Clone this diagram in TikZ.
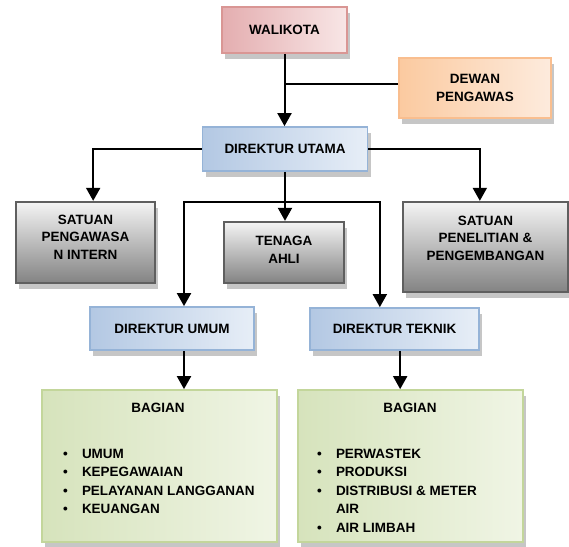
\documentclass[tikz,border=0pt]{standalone}
\usepackage{fontspec}
\setmainfont{Liberation Sans}
\usepackage{xcolor}
\usetikzlibrary{arrows.meta,shadows}

\definecolor{pinkline}{HTML}{D99694}
\definecolor{pinkdark}{HTML}{E4AEB0}
\definecolor{pinklight}{HTML}{F8E6E6}
\definecolor{orangeline}{HTML}{F9BE8F}
\definecolor{orangedark}{HTML}{FBCAA0}
\definecolor{orangelight}{HTML}{FDEBDD}
\definecolor{blueline}{HTML}{95B3D7}
\definecolor{bluedark}{HTML}{B3C8E3}
\definecolor{bluelight}{HTML}{E7EEF7}
\definecolor{grayline}{HTML}{5F5F5F}
\definecolor{graytop}{HTML}{F4F4F4}
\definecolor{graybottom}{HTML}{838383}
\definecolor{greenline}{HTML}{C3D69B}
\definecolor{greendark}{HTML}{D6E3BC}
\definecolor{greenlight}{HTML}{F0F5E5}

\begin{document}
\begin{tikzpicture}[x=0.03cm, y=-0.03cm,
    orgbox/.style={rectangle, draw, line width=1.5pt, inner sep=2pt, align=center,
        font=\fontsize{11.5}{15}\selectfont\bfseries,
        drop shadow={shadow xshift=0.09cm, shadow yshift=-0.18cm, fill=gray!45, opacity=1}},
    pinkbox/.style={orgbox, draw=pinkline, left color=pinkdark, right color=pinklight},
    orangebox/.style={orgbox, draw=orangeline, left color=orangedark, right color=orangelight},
    bluebox/.style={orgbox, draw=blueline, left color=bluedark, right color=bluelight},
    graybox/.style={orgbox, draw=grayline, line width=2pt, top color=graytop, bottom color=graybottom},
    greenbox/.style={orgbox, draw=greenline, left color=greendark, right color=greenlight},
    txt/.style={align=center, font=\fontsize{11.5}{15}\selectfont\bfseries},
    listtxt/.style={anchor=base west, inner sep=0pt, font=\fontsize{11.5}{15.9}\selectfont\bfseries},
    link/.style={line width=1.5pt},
    arrow/.style={-{Triangle[length=0.39cm, width=0.42cm]}, line width=1.7pt}]

    \useasboundingbox (0,0) rectangle (569,546);

    % top level
    \node[pinkbox, minimum width=3.75cm, minimum height=1.38cm] (wali) at (284.5,30) {WALIKOTA};
    \node[orangebox, minimum width=4.56cm, minimum height=1.8cm] (dewan) at (475,88) {DEWAN\\PENGAWAS};
    \node[bluebox, minimum width=4.95cm, minimum height=1.32cm] (du) at (285,149) {DIREKTUR UTAMA};

    % staff units
    \node[graybox, minimum width=4.17cm, minimum height=2.43cm] (spi) at (85.5,242.5) {};
    \node[txt] (spitxt) at (85.5,237) {SATUAN\\PENGAWASA\\N INTERN};
    \node[graybox, minimum width=3.6cm, minimum height=1.83cm] (ta) at (284,252.5) {};
    \node[txt] (tatxt) at (284,250) {TENAGA\\AHLI};
    \node[graybox, minimum width=4.95cm, minimum height=2.7cm] (spp) at (485.5,247) {};
    \node[txt] (spptxt) at (485.5,238) {SATUAN\\PENELITIAN \&\\PENGEMBANGAN};

    % directors
    \node[bluebox, minimum width=4.92cm, minimum height=1.29cm] (dumum) at (172,328.5) {DIREKTUR UMUM};
    \node[bluebox, minimum width=5.07cm, minimum height=1.26cm] (dtek) at (394.5,329) {DIREKTUR TEKNIK};

    % departments
    \node[greenbox, minimum width=7.05cm, minimum height=4.56cm] (bag1) at (159.5,466) {};
    \node[txt] (bag1head) at (158,408) {BAGIAN};
    \node[listtxt] (bag1list) at (63,458) {\begin{tabular}[t]{@{}l@{\hspace{12pt}}l@{}}
        \textbullet & UMUM\\
        \textbullet & KEPEGAWAIAN\\
        \textbullet & PELAYANAN LANGGANAN\\
        \textbullet & KEUANGAN
    \end{tabular}};
    \node[greenbox, minimum width=6.75cm, minimum height=4.56cm] (bag2) at (410.5,466) {};
    \node[txt] (bag2head) at (410,408) {BAGIAN};
    \node[listtxt] (bag2list) at (317,458) {\begin{tabular}[t]{@{}l@{\hspace{12pt}}l@{}}
        \textbullet & PERWASTEK\\
        \textbullet & PRODUKSI\\
        \textbullet & DISTRIBUSI \& METER\\
                    & AIR\\
        \textbullet & AIR LIMBAH
    \end{tabular}};

    % connectors
    \coordinate (dewanjoin) at (284.5,84);
    \coordinate (split) at (285,202);
    \draw[arrow] (wali.south) -- (wali.south |- du.north);
    \draw[link] (dewan.west |- dewanjoin) -- (dewanjoin);
    \draw[arrow] (du.west) -| ([xshift=0.23cm]spi.north);
    \draw[arrow] (du.east) -| ([xshift=-0.17cm]spp.north);
    \draw[arrow] (du.south) -- (du.south |- ta.north);
    \draw[arrow] (split) -| ([xshift=0.36cm]dumum.north);
    \draw[arrow] (split) -| ([xshift=-0.44cm]dtek.north);
    \draw[arrow] ([xshift=0.36cm]dumum.south) -- ([xshift=0.36cm]dumum.south |- bag1.north);
    \draw[arrow] ([xshift=0.17cm]dtek.south) -- ([xshift=0.17cm]dtek.south |- bag2.north);

\end{tikzpicture}
\end{document}
